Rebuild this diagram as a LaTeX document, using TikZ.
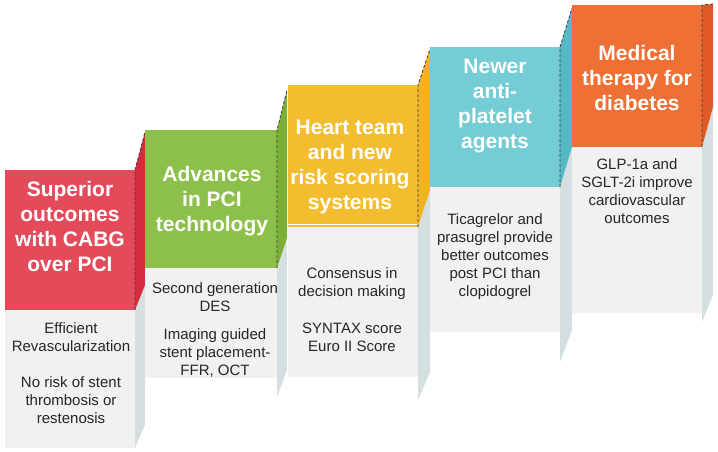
\documentclass[tikz,border=0pt]{standalone}
\usepackage{fontspec}
\setmainfont{Liberation Sans}
\definecolor{redA}{HTML}{E34B5B}
\definecolor{redB}{HTML}{D62B3C}
\definecolor{greenA}{HTML}{8DC04B}
\definecolor{greenB}{HTML}{7BB036}
\definecolor{yellowA}{HTML}{F4BD2F}
\definecolor{yellowB}{HTML}{EFB323}
\definecolor{cyanA}{HTML}{74CCD5}
\definecolor{cyanB}{HTML}{55B8C5}
\definecolor{orangeA}{HTML}{EE7034}
\definecolor{orangeB}{HTML}{E05A28}
\definecolor{bodyg}{HTML}{F1F1F1}
\definecolor{sideg}{HTML}{D5DFE2}
\tikzset{
  hdtext/.style={text=white,font=\bfseries\fontsize{21}{25}\selectfont,align=center,inner sep=0pt},
  bdtext/.style={text=black!85,font=\fontsize{15}{18}\selectfont,align=center,inner sep=0pt},
  rim/.style={densely dashed,black!75,line width=0.8pt},
}

\begin{document}
\begin{tikzpicture}[x=1pt,y=-1pt]
    \useasboundingbox (0,0) rectangle (718,452);
      % Step 1: CABG
      \fill[bodyg] (5,310) rectangle (135,448);
      \fill[redA] (5,170) rectangle (135,310);
      \node[hdtext] (H1) at (70,226) {Superior\\outcomes\\with CABG\\over PCI};
      \node[bdtext] (B1) at (71,373) {Efficient\\Revascularization\\[18pt]No risk of stent\\thrombosis or\\restenosis};
      \fill[sideg] (135,310) -- (145,285) -- (145,425) -- (135,448) -- cycle;
      \fill[redB] (135,170) -- (145,132) -- (145,285) -- (135,310) -- cycle;
      \draw[rim] (135,310) -- (135,170) -- (145,132);
      % Step 2: PCI
      \fill[bodyg] (145,268) rectangle (277,378);
      \fill[greenA] (145,130) rectangle (277,268);
      \node[hdtext] (H2) at (212,201) {Advances\\in PCI\\technology};
      \node[bdtext] (B2) at (215,330) {Second generation\\DES\\[10pt]Imaging guided\\stent placement-\\FFR, OCT};
      \fill[sideg] (277,268) -- (287,238) -- (287,370) -- (277,397) -- cycle;
      \fill[greenB] (277,130) -- (287,90) -- (287,238) -- (277,268) -- cycle;
      \draw[rim] (277,268) -- (277,130) -- (287,90);
      % Step 3: heart team
      \fill[bodyg] (288,227) rectangle (418,377);
      \fill[yellowA] (288,85) rectangle (418,227);
      \draw[white,line width=1pt] (288,224) -- (418,224);
      \node[hdtext] (H3) at (350,167) {Heart team\\and new\\risk scoring\\systems};
      \node[bdtext] (B3) at (352,310) {Consensus in\\decision making\\[19pt]SYNTAX score\\Euro II Score};
      \fill[sideg] (418,227) -- (430,190) -- (430,372) -- (418,400) -- cycle;
      \fill[yellowB] (418,85) -- (430,49) -- (430,190) -- (418,227) -- cycle;
      \draw[rim] (418,227) -- (418,85) -- (430,49);
      % Step 4: anti-platelet
      \fill[bodyg] (430,187) rectangle (560,332);
      \fill[cyanA] (430,47) rectangle (560,187);
      \node[hdtext] (H4) at (495,106) {Newer\\anti-\\platelet\\agents};
      \node[bdtext] (B4) at (495,257) {Ticagrelor and\\prasugrel provide\\better outcomes\\post PCI than\\clopidogrel};
      \fill[sideg] (560,187) -- (572,147) -- (572,330) -- (560,362) -- cycle;
      \fill[cyanB] (560,47) -- (572,8) -- (572,147) -- (560,187) -- cycle;
      \draw[rim] (560,187) -- (560,47) -- (572,8);
      % Step 5: diabetes
      \fill[bodyg] (572,147) rectangle (702,313);
      \fill[orangeA] (572,5) rectangle (702,147);
      \node[hdtext] (H5) at (637,78) {Medical\\therapy for\\diabetes};
      \node[bdtext] (B5) at (637,191) {GLP-1a and\\SGLT-2i improve\\cardiovascular\\outcomes};
      \fill[sideg] (702,147) -- (713,107) -- (713,295) -- (702,322) -- cycle;
      \fill[orangeB] (702,5) -- (713,4) -- (713,107) -- (702,147) -- cycle;
      \draw[rim] (702,147) -- (702,5) -- (713,4);
\end{tikzpicture}
\end{document}
